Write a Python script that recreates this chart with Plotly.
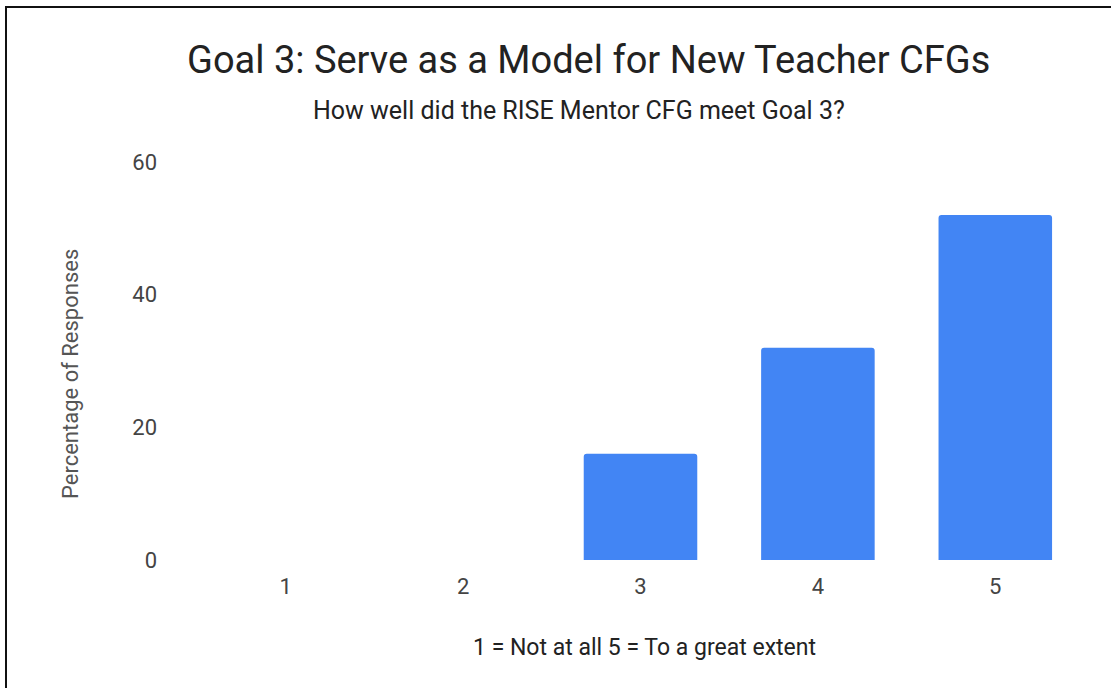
import plotly.graph_objects as go

categories = ["1", "2", "3", "4", "5"]
percentages = [0, 0, 16, 32, 52]
y_ticks = [0, 20, 40, 60]

title_text = "Goal 3: Serve as a Model for New Teacher CFGs"
subtitle_text = "How well did the RISE Mentor CFG meet Goal 3?"
x_title = "1 = Not at all 5 = To a great extent"
y_title = "Percentage of Responses"

W, H = 1111, 688
L, R, T, B = 197, 27, 162, 128
pw, ph = W - L - R, H - T - B

def px(x):
    return (x - L) / pw

def py(y):
    return (H - B - y) / ph

fig = go.Figure(go.Bar(
    x=categories, y=percentages,
    marker=dict(color="#4285F4", cornerradius=3, line=dict(width=0)),
    hoverinfo="x+y",
))

font = "Roboto, Arial, sans-serif"

fig.update_layout(
    width=W, height=H,
    margin=dict(l=L, r=R, t=T, b=B),
    paper_bgcolor="white", plot_bgcolor="white",
    bargap=0.36,
    showlegend=False,
    font=dict(family=font, color="#444"),
    xaxis=dict(type="category", showgrid=False, zeroline=False, showline=False,
               ticks="", tickfont=dict(size=22, color="#444"), ticklabelstandoff=11),
    yaxis=dict(range=[0, 60], tickvals=y_ticks, showgrid=False, zeroline=False,
               showline=False, ticks="", tickfont=dict(size=22, color="#444"),
               ticklabelstandoff=39),
)

fig.add_annotation(text=title_text, xref="paper", yref="paper", x=px(588), y=py(60),
                   showarrow=False, xanchor="center", yanchor="middle",
                   font=dict(size=38, color="#222", family=font))
fig.add_annotation(text=subtitle_text, xref="paper", yref="paper", x=px(578.5), y=py(110),
                   showarrow=False, xanchor="center", yanchor="middle",
                   font=dict(size=25, color="#222", family=font))
fig.add_annotation(text=x_title, xref="paper", yref="paper", x=px(644), y=py(647),
                   showarrow=False, xanchor="center", yanchor="middle",
                   font=dict(size=23, color="#222", family=font))
fig.add_annotation(text=y_title, xref="paper", yref="paper", x=px(70), y=py(374),
                   showarrow=False, xanchor="center", yanchor="middle", textangle=-90,
                   font=dict(size=22, color="#555", family=font))

# frame lines (left and top only)
fig.add_shape(type="line", xref="paper", yref="paper",
              x0=px(6), x1=px(6), y0=py(700), y1=py(6),
              line=dict(color="#111", width=2), layer="above")
fig.add_shape(type="line", xref="paper", yref="paper",
              x0=px(6), x1=px(1115), y0=py(7), y1=py(7),
              line=dict(color="#111", width=2), layer="above")

fig.write_html("out.html", config={"displayModeBar": False},
               post_script="document.body.style.margin='0';")
